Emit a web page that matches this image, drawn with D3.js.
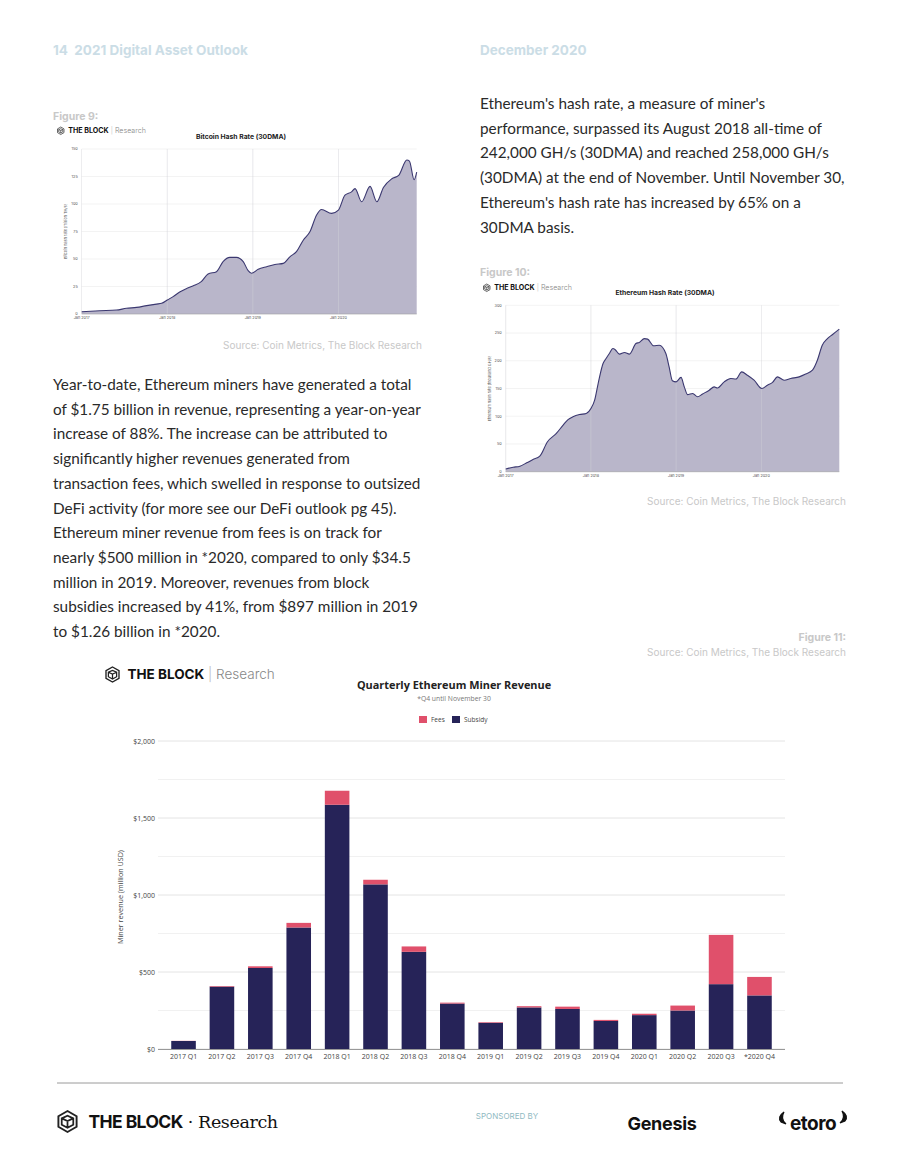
<!DOCTYPE html>
<html>
<head>
<meta charset="utf-8">
<script src="https://cdn.jsdelivr.net/npm/d3@7"></script>
<style>
  body { margin: 0; background: #fff; }
  svg { display: block; }
</style>
</head>
<body>
<script>
var w = 900;
var h = 1166;

// bitcoin hash rate (30DMA), million TH/s
var btcDates = ["2017-01-01","2017-03-19","2017-05-29","2017-07-11","2017-08-23","2017-10-05","2017-11-16","2017-12-08",
  "2018-01-01","2018-01-26","2018-02-23","2018-03-23","2018-04-20","2018-05-26","2018-06-24","2018-07-30","2018-08-27",
  "2018-09-25","2018-10-23","2018-11-21","2018-12-12","2018-12-26","2019-01-24","2019-03-01","2019-04-05","2019-05-11",
  "2019-06-08","2019-07-06","2019-08-04","2019-09-02","2019-09-30","2019-10-21","2019-12-03","2020-01-01","2020-01-29",
  "2020-02-26","2020-03-12","2020-04-09","2020-05-15","2020-06-13","2020-07-11","2020-08-16","2020-09-14","2020-10-19",
  "2020-10-30","2020-11-19","2020-11-30"];
var btcValues = [2.1,3.0,3.6,5.2,6,7.6,9,9.7,
  12.7,15.8,20,23,25.5,29.4,36.4,38.5,47.6,
  51.5,51.5,47.6,39.4,37,40.6,43,45,46,
  52,56.7,67,75,90,95,91.5,94.5,108,
  111,114,102,116,102,115,123,126,140,
  139,122,129];
var btcTicks = [0,25,50,75,100,125,150];

// ethereum hash rate (30DMA), thousand GH/s
var ethDates = ["2017-01-01","2017-02-02","2017-03-03","2017-04-01","2017-04-28","2017-05-27","2017-06-29","2017-08-06",
  "2017-09-04","2017-09-25","2017-10-16","2017-11-13","2017-12-12","2018-01-01","2018-01-17","2018-02-01","2018-02-22",
  "2018-03-07","2018-03-21","2018-04-05","2018-04-15","2018-05-03","2018-05-25","2018-06-15","2018-07-13","2018-07-27",
  "2018-08-18","2018-09-01","2018-09-27","2018-10-21","2018-11-18","2018-12-02","2018-12-16","2019-01-01","2019-01-22",
  "2019-02-05","2019-02-19","2019-03-13","2019-04-03","2019-04-24","2019-05-23","2019-06-13","2019-06-27","2019-07-26",
  "2019-08-23","2019-09-14","2019-10-09","2019-11-02","2019-12-01","2020-01-03","2020-01-27","2020-02-18","2020-03-10",
  "2020-04-08","2020-05-06","2020-06-11","2020-07-09","2020-08-07","2020-08-28","2020-09-18","2020-10-10","2020-10-31",
  "2020-11-30"];
var ethValues = [5,8,10,16,22,28,54,69,
  84,94,99,103,105,114,129,159,195,
  204,213,222,220,212,215,212,231,233,
  240,239,227,228,213,189,164,162,170,
  153,139,141,135,140,147,153,151,162,
  168,167,180,174,165,150,156,161,171,
  165,168,171,176,183,201,228,240,247,
  257];
var ethTicks = [0,50,100,150,200,250,300];

// quarterly ethereum miner revenue, million USD
var quarters = ["2017 Q1","2017 Q2","2017 Q3","2017 Q4","2018 Q1","2018 Q2","2018 Q3","2018 Q4",
  "2019 Q1","2019 Q2","2019 Q3","2019 Q4","2020 Q1","2020 Q2","2020 Q3","*2020 Q4"];
var subsidyValues = [52,405,526,789,1586,1069,631,295,170,270,260,182,220,250,421,348];
var feesValues = [1,4,11,30,91,30,35,6,4,8,15,7,9,32,320,120];
var revenueTicks = [0,500,1000,1500,2000];
var revenueGrid = [250,750,1250,1750];
var seriesNames = ["Fees","Subsidy"];
var yearTicks = ["2017-01-01","2018-01-01","2019-01-01","2020-01-01"];

var parse = d3.timeParse("%Y-%m-%d");
var fees = "#e0506b";
var subsidy = "#262358";
var sans = "Inter, Roboto, 'Open Sans', sans-serif";
var body = "Lato, 'Noto Sans', sans-serif";

var svg = d3.select("body").append("svg")
  .attr("width", w)
  .attr("height", h)
  .style("background-color", "white");

// page header
svg.append("text").attr("x", 53).attr("y", 55).text("14  2021 Digital Asset Outlook")
  .attr("font-family", sans).attr("font-weight", 700).attr("font-size", 13.5).attr("fill", "#cbdde6")
  .attr("xml:space", "preserve");
svg.append("text").attr("x", 480).attr("y", 55).text("December 2020")
  .attr("font-family", sans).attr("font-weight", 700).attr("font-size", 13.5).attr("fill", "#cbdde6");

function para(x, y, lines) {
  var t = svg.append("text").attr("font-family", body).attr("font-size", 15.3).attr("fill", "#2a2a2a");
  t.selectAll("tspan").data(lines).join("tspan")
    .attr("x", x)
    .attr("y", function(d, i) { return y + i * 24.7; })
    .text(function(d) { return d; });
}

para(480, 109, [
  "Ethereum's hash rate, a measure of miner's",
  "performance, surpassed its August 2018 all-time of",
  "242,000 GH/s (30DMA) and reached 258,000 GH/s",
  "(30DMA) at the end of November. Until November 30,",
  "Ethereum's hash rate has increased by 65% on a",
  "30DMA basis."
]);

para(53, 390, [
  "Year-to-date, Ethereum miners have generated a total",
  "of $1.75 billion in revenue, representing a year-on-year",
  "increase of 88%. The increase can be attributed to",
  "significantly higher revenues generated from",
  "transaction fees, which swelled in response to outsized",
  "DeFi activity (for more see our DeFi outlook pg 45).",
  "Ethereum miner revenue from fees is on track for",
  "nearly $500 million in *2020, compared to only $34.5",
  "million in 2019. Moreover, revenues from block",
  "subsidies increased by 41%, from $897 million in 2019",
  "to $1.26 billion in *2020."
]);

function caption(x, y, txt, anchor, bold) {
  svg.append("text").attr("x", x).attr("y", y).text(txt)
    .attr("text-anchor", anchor || "start")
    .attr("font-family", sans).attr("font-size", bold ? 10.5 : 10)
    .attr("font-weight", bold ? 700 : 400).attr("fill", "#c8c8c8");
}

// small cube logo
function logo(x, y, s, withBar, label2, fs) {
  var g = svg.append("g").attr("transform", "translate(" + x + "," + y + ")");
  var r = s / 2;
  var hex = d3.range(6).map(function(i) {
    var a = Math.PI / 3 * i - Math.PI / 2;
    return [r + r * Math.cos(a), r + r * Math.sin(a)];
  });
  g.append("path").attr("d", "M" + hex.join("L") + "Z")
    .attr("fill", "none").attr("stroke", "#222").attr("stroke-width", s / 11);
  g.append("path")
    .attr("d", "M" + [r * 0.45, r * 0.7] + "L" + [r, r * 0.95] + "L" + [r * 1.55, r * 0.7] +
      "M" + [r, r * 0.95] + "L" + [r, r * 1.6] +
      "M" + [r * 0.45, r * 0.7] + "L" + [r * 0.45, r * 1.3] + "L" + [r, r * 1.6] + "L" + [r * 1.55, r * 1.3] + "L" + [r * 1.55, r * 0.7] +
      "L" + [r, r * 0.45] + "Z")
    .attr("fill", "none").attr("stroke", "#222").attr("stroke-width", s / 12);
  var size = fs || s * 0.95;
  var t = g.append("text").attr("x", s * 1.5).attr("y", r + size * 0.36)
    .attr("font-family", sans).attr("font-size", size).attr("fill", "#111");
  t.append("tspan").attr("font-weight", 700).attr("letter-spacing", withBar ? 0 : -0.6).text("THE BLOCK");
  if (withBar) {
    t.append("tspan").attr("fill", "#bbb").attr("font-weight", 300).text(" | ");
    t.append("tspan").attr("fill", "#888").attr("font-weight", 300).text(label2);
  } else {
    t.append("tspan").attr("font-family", "'DejaVu Serif', 'Liberation Serif', serif").attr("font-weight", 400)
      .attr("letter-spacing", -0.4).text(" \u00b7 " + label2);
  }
}

function hashChart(dates, values, ticks, opts) {
  var x = d3.scaleTime()
    .domain([parse("2017-01-01"), parse("2020-11-30")])
    .range([opts.x0, opts.x1]);
  var y = d3.scaleLinear().domain([0, opts.max]).range([opts.y0, opts.y1]);
  var g = svg.append("g");

  g.selectAll("line.hg").data(ticks).join("line")
    .attr("class", "hg")
    .attr("x1", opts.x0).attr("x2", opts.x1)
    .attr("y1", function(d) { return y(d); }).attr("y2", function(d) { return y(d); })
    .attr("stroke", "#ebebeb").attr("stroke-width", 0.6);
  g.selectAll("text.yt").data(ticks).join("text")
    .attr("class", "yt")
    .attr("x", opts.x0 - 4).attr("y", function(d) { return y(d) + 1.3; })
    .attr("text-anchor", "end").attr("font-family", sans).attr("font-size", 3.8).attr("fill", "#555")
    .text(function(d) { return d; });

  var pts = dates.map(function(d, i) { return [parse(d), values[i]]; });
  var area = d3.area()
    .x(function(d) { return x(d[0]); })
    .y0(y(0))
    .y1(function(d) { return y(d[1]); })
    .curve(d3.curveMonotoneX);
  var line = d3.line()
    .x(function(d) { return x(d[0]); })
    .y(function(d) { return y(d[1]); })
    .curve(d3.curveMonotoneX);
  g.append("path").datum(pts).attr("d", area).attr("fill", "#b9b6ca");

  g.selectAll("line.vg").data(yearTicks).join("line")
    .attr("class", "vg")
    .attr("x1", function(d) { return x(parse(d)); }).attr("x2", function(d) { return x(parse(d)); })
    .attr("y1", opts.y1).attr("y2", opts.y0)
    .attr("stroke", "#d2d2d8").attr("stroke-width", 0.6).attr("opacity", 0.8);
  g.append("path").datum(pts).attr("d", line)
    .attr("fill", "none").attr("stroke", "#3b3870").attr("stroke-width", 1.1);
  g.append("line").attr("x1", opts.x0).attr("x2", opts.x1).attr("y1", opts.y0).attr("y2", opts.y0)
    .attr("stroke", "#999").attr("stroke-width", 0.5);

  g.selectAll("text.xt").data(yearTicks).join("text")
    .attr("class", "xt")
    .attr("x", function(d) { return x(parse(d)); }).attr("y", opts.y0 + 5)
    .attr("text-anchor", "middle").attr("font-family", sans).attr("font-size", 3.8).attr("fill", "#555")
    .text(function(d) { return d3.timeFormat("Jan %Y")(parse(d)); });

  g.append("text")
    .attr("transform", "translate(" + (opts.x0 - 15) + "," + ((opts.y0 + opts.y1) / 2) + ") rotate(-90)")
    .attr("text-anchor", "middle").attr("font-family", sans).attr("font-size", 3.8).attr("fill", "#555")
    .text(opts.ytitle);
  g.append("text").attr("x", opts.tx).attr("y", opts.y1 - 10)
    .attr("text-anchor", "middle").attr("font-family", sans).attr("font-size", 6.8)
    .attr("font-weight", 700).attr("fill", "#222")
    .text(opts.title);
}

// figure 9
caption(53, 120, "Figure 9:", "start", true);
logo(57, 127, 7.5, true, "Research");
hashChart(btcDates, btcValues, btcTicks, {
  x0: 81.7, x1: 416.7, y0: 314, y1: 149, max: 150, tx: 241,
  title: "Bitcoin Hash Rate (30DMA)", ytitle: "Bitcoin hash rate (million TH/s)"
});
caption(422, 349, "Source: Coin Metrics, The Block Research", "end");

// figure 10
caption(480, 276, "Figure 10:", "start", true);
logo(483, 284, 7.5, true, "Research");
hashChart(ethDates, ethValues, ethTicks, {
  x0: 505.7, x1: 839.3, y0: 471.7, y1: 305.3, max: 300, tx: 665,
  title: "Ethereum Hash Rate (30DMA)", ytitle: "Ethereum hash rate (thousand GH/s)"
});
caption(846, 505, "Source: Coin Metrics, The Block Research", "end");

// figure 11
caption(846, 641, "Figure 11:", "end", true);
caption(846, 656, "Source: Coin Metrics, The Block Research", "end");

logo(105, 667, 15, true, "Research", 13.5);

var bx = d3.scaleBand().domain(quarters).range([158, 785]).paddingInner(0.36).paddingOuter(0.345);
var by = d3.scaleLinear().domain([0, 2000]).range([1049, 741]);

svg.append("text").attr("x", 454).attr("y", 689).text("Quarterly Ethereum Miner Revenue")
  .attr("text-anchor", "middle").attr("font-family", "'Open Sans', sans-serif")
  .attr("font-weight", 700).attr("font-size", 10.9).attr("fill", "#222");
svg.append("text").attr("x", 454).attr("y", 701).text("*Q4 until November 30")
  .attr("text-anchor", "middle").attr("font-family", "'Open Sans', sans-serif")
  .attr("font-size", 6.8).attr("fill", "#777");

var leg = svg.append("g").selectAll("g").data(seriesNames).join("g")
  .attr("transform", function(d, i) { return "translate(" + (419 + i * 33) + ",716)"; });
leg.append("rect").attr("width", 8).attr("height", 7)
  .attr("fill", function(d) { return d === "Fees" ? fees : subsidy; });
leg.append("text").attr("x", 12).attr("y", 6)
  .attr("font-family", "'Open Sans', sans-serif").attr("font-size", 6.5).attr("fill", "#444")
  .text(function(d) { return d; });

svg.append("g").selectAll("line").data(revenueTicks.concat(revenueGrid)).join("line")
  .attr("x1", 158).attr("x2", 785)
  .attr("y1", function(d) { return by(d); }).attr("y2", function(d) { return by(d); })
  .attr("stroke", function(d) { return revenueTicks.indexOf(d) >= 0 ? "#e4e4e4" : "#f1f1f1"; })
  .attr("stroke-width", 1);

svg.append("g").selectAll("text").data(revenueTicks).join("text")
  .attr("x", 155).attr("y", function(d) { return by(d) + 2.5; })
  .attr("text-anchor", "end").attr("font-family", "'Open Sans', sans-serif")
  .attr("font-size", 7).attr("fill", "#444")
  .text(function(d) { return "$" + d3.format(",")(d); });

svg.append("text")
  .attr("transform", "translate(123,897) rotate(-90)")
  .attr("text-anchor", "middle").attr("font-family", "'Open Sans', sans-serif")
  .attr("font-size", 7.2).attr("fill", "#444")
  .text("Miner revenue (million USD)");

var bars = svg.append("g");
bars.selectAll("rect.sub").data(quarters).join("rect")
  .attr("class", "sub")
  .attr("x", function(d) { return bx(d); })
  .attr("width", bx.bandwidth())
  .attr("y", function(d, i) { return by(subsidyValues[i]); })
  .attr("height", function(d, i) { return by(0) - by(subsidyValues[i]); })
  .attr("fill", subsidy);
bars.selectAll("rect.fee").data(quarters).join("rect")
  .attr("class", "fee")
  .attr("x", function(d) { return bx(d); })
  .attr("width", bx.bandwidth())
  .attr("y", function(d, i) { return by(subsidyValues[i] + feesValues[i]); })
  .attr("height", function(d, i) { return by(subsidyValues[i]) - by(subsidyValues[i] + feesValues[i]); })
  .attr("fill", fees);

svg.append("line").attr("x1", 158).attr("x2", 785).attr("y1", 1049.5).attr("y2", 1049.5)
  .attr("stroke", "#999").attr("stroke-width", 1);

svg.append("g").selectAll("text").data(quarters).join("text")
  .attr("x", function(d) { return bx(d) + bx.bandwidth() / 2; })
  .attr("y", 1059)
  .attr("text-anchor", "middle").attr("font-family", "'Open Sans', sans-serif")
  .attr("font-size", 7).attr("fill", "#444")
  .text(function(d) { return d; });

// footer
svg.append("line").attr("x1", 57).attr("x2", 843).attr("y1", 1083).attr("y2", 1083)
  .attr("stroke", "#9a9a9a").attr("stroke-width", 1);
logo(57, 1111, 21, false, "Research", 17.5);
svg.append("text").attr("x", 507).attr("y", 1119).text("SPONSORED BY")
  .attr("text-anchor", "middle").attr("font-family", sans).attr("font-size", 8).attr("fill", "#8fb9c2");
svg.append("text").attr("x", 662).attr("y", 1130).text("Genesis")
  .attr("text-anchor", "middle").attr("font-family", sans).attr("font-weight", 700)
  .attr("font-size", 18).attr("fill", "#111").attr("letter-spacing", -0.3);
svg.append("text").attr("x", 813).attr("y", 1130).text("etoro")
  .attr("text-anchor", "middle").attr("font-family", sans).attr("font-weight", 700)
  .attr("font-size", 19).attr("fill", "#111").attr("letter-spacing", -0.5);
svg.append("path").attr("d", "M784,1112 Q777,1117 781,1122 L786,1124 Q780,1119 784,1112 Z")
  .attr("fill", "#111").attr("stroke", "#111").attr("stroke-width", 1.2);
svg.append("path").attr("d", "M842,1111 Q849,1116 845,1121 L840,1123 Q846,1118 842,1111 Z")
  .attr("fill", "#111").attr("stroke", "#111").attr("stroke-width", 1.2);
</script>
</body>
</html>
